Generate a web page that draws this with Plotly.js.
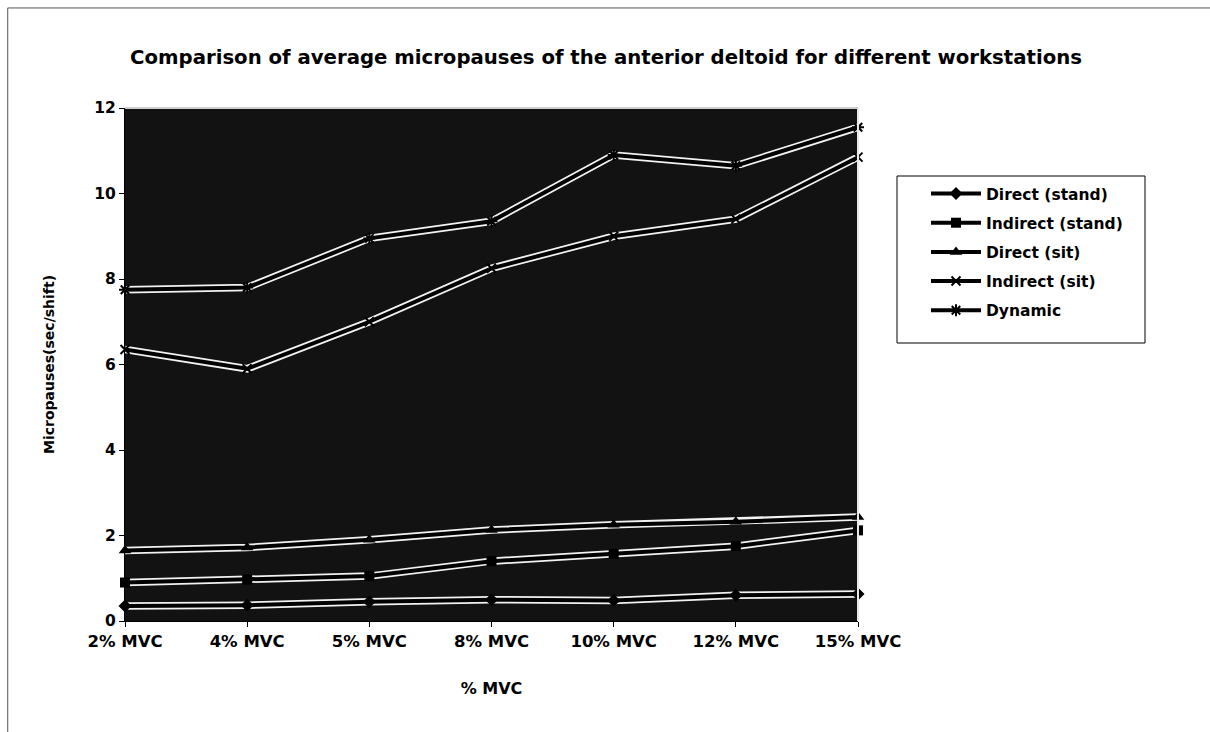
<!DOCTYPE html>
<html>
<head>
<meta charset="utf-8">
<script src="https://cdn.plot.ly/plotly-3.0.1.min.js"></script>
<style>html,body{margin:0;padding:0;background:#fff;}#chart{width:1210px;height:732px;}</style>
</head>
<body>
<div id="chart"></div>
<script>
var categories = ["2% MVC", "4% MVC", "5% MVC", "8% MVC", "10% MVC", "12% MVC", "15% MVC"];
var directStand = [0.35, 0.37, 0.45, 0.5, 0.48, 0.6, 0.63];
var indirectStand = [0.9, 0.97, 1.05, 1.4, 1.57, 1.75, 2.12];
var directSit = [1.65, 1.72, 1.9, 2.13, 2.25, 2.32, 2.43];
var indirectSit = [6.35, 5.9, 7.0, 8.25, 9.0, 9.4, 10.85];
var dynamic = [7.75, 7.8, 8.95, 9.35, 10.9, 10.65, 11.55];

var seriesNames = ["Direct (stand)", "Indirect (stand)", "Direct (sit)", "Indirect (sit)", "Dynamic"];
var seriesValues = [directStand, indirectStand, directSit, indirectSit, dynamic];
var markerSymbols = ["diamond", "square", "triangle-up", "x-thin-open", "asterisk-open"];
var markerSizes = [10, 10, 11, 9, 10];

var traces = [];
seriesValues.forEach(function (vals) {
  traces.push({
    x: categories, y: vals, type: "scatter", mode: "lines",
    line: {color: "#f2f2f2", width: 7.5}, showlegend: false, hoverinfo: "skip",
    cliponaxis: false
  });
});
seriesValues.forEach(function (vals, i) {
  var sym = markerSymbols[i];
  var open = sym.indexOf("open") >= 0;
  traces.push({
    x: categories, y: vals, type: "scatter", mode: "lines+markers",
    name: seriesNames[i], legendgroup: "g" + i,
    line: {color: "#000", width: 4},
    marker: {symbol: sym, size: markerSizes[i], color: "#000",
             line: {color: "#000", width: open ? 2 : 0}},
    cliponaxis: false
  });
});

var fontFam = "DejaVu Sans, Verdana, sans-serif";
var W = 733, H = 513, L = 125, T = 108;
function px(x) { return (x - L) / W; }
function py(y) { return (T + H - y) / H; }

var layout = {
  width: 1210, height: 732,
  paper_bgcolor: "#fff",
  plot_bgcolor: "#121212",
  margin: {l: 125, r: 352, t: 108, b: 111, pad: 0},
  font: {family: fontFam, color: "#000", size: 13},
  title: {
    text: "<b>Comparison of average micropauses of the anterior deltoid for different workstations</b>",
    font: {family: fontFam, size: 19.7, color: "#000"},
    x: 606 / 1210, xref: "container", xanchor: "center",
    y: 1 - 57 / 732, yref: "container", yanchor: "middle"
  },
  xaxis: {
    type: "category", range: [0, 6],
    showgrid: false, zeroline: false,
    showline: true, linecolor: "#000", linewidth: 1,
    ticks: "outside", ticklen: 5, tickcolor: "#000",
    tickfont: {family: fontFam, size: 16.5, color: "#000", weight: "bold"},
    title: {text: "<b>% MVC</b>", font: {family: fontFam, size: 16, color: "#000"}, standoff: 33}
  },
  yaxis: {
    range: [0, 12], dtick: 2, tick0: 0,
    showgrid: false, zeroline: false,
    showline: true, linecolor: "#000", linewidth: 1,
    ticks: "outside", ticklen: 5, tickcolor: "#000",
    tickfont: {family: fontFam, size: 15.5, color: "#000", weight: "bold"},
    title: {text: "<b>Micropauses(sec/shift)</b>", font: {family: fontFam, size: 14, color: "#000"}, standoff: 36}
  },
  legend: {
    x: 926 / 1210, y: 1 - 177 / 732, xref: "container", yref: "container",
    xanchor: "left", yanchor: "top",
    bgcolor: "rgba(0,0,0,0)", borderwidth: 0,
    font: {family: fontFam, size: 15.5, color: "#000", weight: "bold"},
    tracegroupgap: 6, itemwidth: 50
  },
  shapes: [
    {type: "line", xref: "paper", yref: "paper", x0: 1, x1: 1, y0: 0, y1: 1,
     line: {color: "#e8e8e8", width: 2}},
    {type: "line", xref: "paper", yref: "paper", x0: 0, x1: 1, y0: 1, y1: 1,
     line: {color: "#cfcfcf", width: 2}},
    {type: "rect", xref: "paper", yref: "paper",
     x0: px(897), x1: px(1145), y0: py(343), y1: py(176),
     fillcolor: "#fff", line: {color: "#000", width: 1}, layer: "below"},
    {type: "path", xref: "paper", yref: "paper",
     path: "M -0.16 -0.25 L -0.16 1.195 L 1.6 1.195",
     line: {color: "#555", width: 1}}
  ]
};

Plotly.newPlot("chart", traces, layout, {displayModeBar: false, staticPlot: true});
</script>
</body>
</html>
